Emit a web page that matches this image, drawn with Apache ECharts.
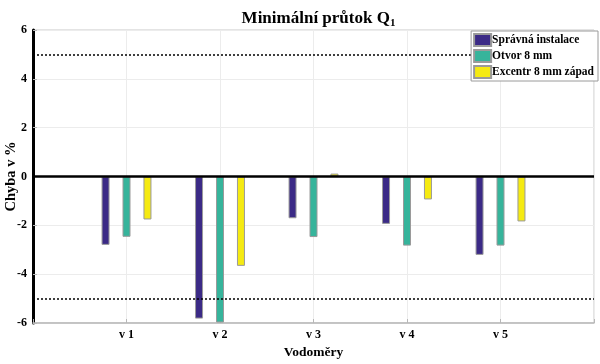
<!DOCTYPE html>
<html><head><meta charset="utf-8">
<script src="https://cdn.jsdelivr.net/npm/echarts@6/dist/echarts.min.js"></script>
<style>html,body{margin:0;padding:0;background:#fff}#c{width:600px;height:364px}</style>
</head><body><div id="c"></div>
<script>
const categories = ['v 1', 'v 2', 'v 3', 'v 4', 'v 5'];
const seriesNames = ['Správná instalace', 'Otvor 8 mm', 'Excentr 8 mm západ'];
const spravna = [-2.80, -5.82, -1.71, -1.94, -3.21];
const otvor = [-2.47, -5.98, -2.48, -2.83, -2.83];
const excentr = [-1.76, -3.66, 0.12, -0.94, -1.84];
const yTicks = [-6, -4, -2, 0, 2, 4, 6];
const limits = [5, -5];

const colors = ['#3b2a86', '#36b49b', '#f5ea12'];
const font = '"Liberation Serif", "DejaVu Serif", serif';
const values = [spravna, otvor, excentr];

const chart = echarts.init(document.getElementById('c'));
const series = values.map((vals, i) => ({
  name: seriesNames[i],
  type: 'bar',
  barWidth: 8,
  barGap: '162%',
  data: vals.map((v, j) => [j + 1, v]),
  itemStyle: { color: colors[i], borderColor: '#9a9a9a', borderWidth: 1 },
  emphasis: { disabled: true },
  z: 3
}));
series[0].markLine = {
  silent: true,
  symbol: ['none', 'none'],
  label: { show: false },
  animation: false,
  data: [
    { yAxis: 0, lineStyle: { color: '#000', width: 2.5, type: 'solid' } },
    { yAxis: limits[0], lineStyle: { color: '#000', width: 1.5, type: [2, 2] } },
    { yAxis: limits[1], lineStyle: { color: '#000', width: 1.5, type: [2, 2] } }
  ]
};

chart.setOption({
  animation: false,
  backgroundColor: '#fff',
  title: {
    text: '{a|Minimální průtok Q}{b|1}',
    left: 313.5, textAlign: 'center', top: 3,
    textStyle: {
      rich: {
        a: { fontFamily: font, fontWeight: 'bold', fontSize: 17, color: '#000' },
        b: { fontFamily: font, fontWeight: 'bold', fontSize: 11, color: '#000', padding: [10, 0, 0, 0] }
      }
    }
  },
  grid: { left: 33, right: 6, top: 30, bottom: 41, show: true, borderColor: '#c8c8c8', borderWidth: 1,
          outerBoundsMode: 'none', containLabel: false },
  legend: {
    orient: 'vertical', right: 2, top: 31, z: 20,
    backgroundColor: '#fff', borderColor: '#9a9a9a', borderWidth: 1,
    padding: [2, 4, 2, 2], itemGap: 2, itemWidth: 17, itemHeight: 12,
    icon: 'rect',
    textStyle: { fontFamily: font, fontWeight: 'bold', fontSize: 11.5, color: '#000', padding: [0, 0, 0, -4] },
    data: seriesNames
  },
  xAxis: {
    type: 'value', min: 0, max: 6, interval: 1,
    name: 'Vodoměry', nameLocation: 'middle', nameGap: 23, nameMoveOverlap: false,
    nameTextStyle: { fontFamily: font, fontWeight: 'bold', fontSize: 13.5, color: '#000' },
    axisLine: { onZero: false, lineStyle: { color: '#b8b8b8', width: 1.5 } },
    axisTick: { inside: true, length: 4, lineStyle: { color: '#b8b8b8' } },
    splitLine: { show: true, lineStyle: { color: '#ececec', width: 1 } },
    axisLabel: {
      fontFamily: font, fontWeight: 'bold', fontSize: 12, color: '#000', margin: 6,
      formatter: v => (v >= 1 && v <= categories.length) ? categories[v - 1] : ''
    }
  },
  yAxis: {
    type: 'value', min: yTicks[0], max: yTicks[yTicks.length - 1], interval: 2,
    name: 'Chyba v %', nameLocation: 'middle', nameGap: 14, nameMoveOverlap: false,
    nameTextStyle: { fontFamily: font, fontWeight: 'bold', fontSize: 14.5, color: '#000' },
    axisLine: { show: true, lineStyle: { color: '#000', width: 3 } },
    axisTick: { show: true, inside: true, length: 4, lineStyle: { color: '#b8b8b8' } },
    splitLine: { show: true, lineStyle: { color: '#ececec', width: 1 } },
    axisLabel: { fontFamily: font, fontWeight: 'bold', fontSize: 12, color: '#000', margin: 6 }
  },
  series: series
});
</script></body></html>
